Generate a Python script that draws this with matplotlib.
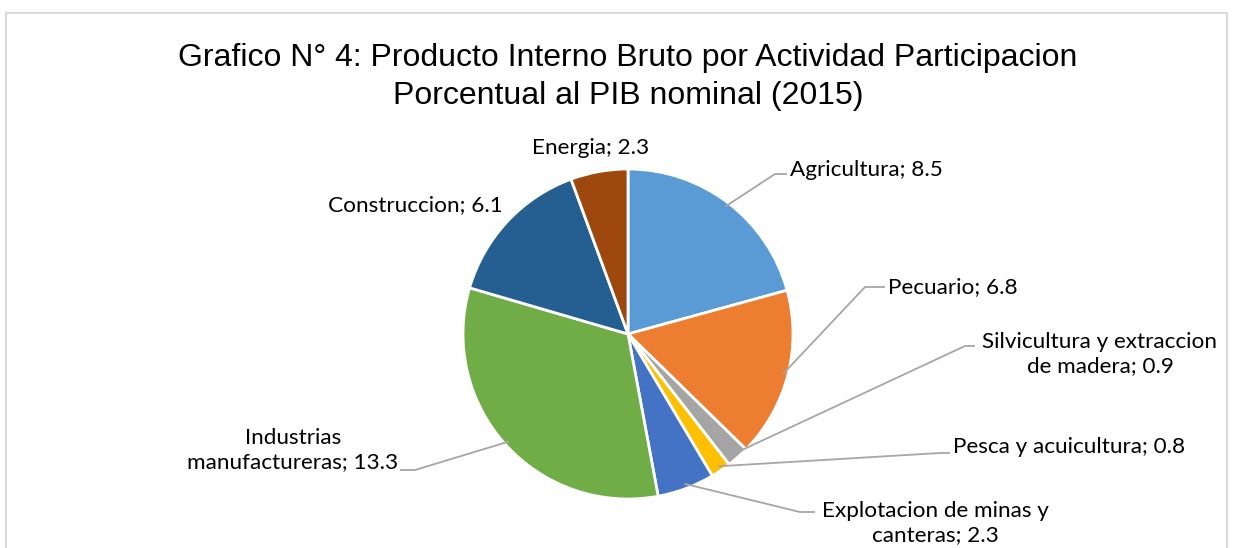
import numpy as np
import matplotlib
matplotlib.use("Agg")
import matplotlib.pyplot as plt

# data
categories = [
    "Agricultura",
    "Pecuario",
    "Silvicultura y extraccion\nde madera",
    "Pesca y acuicultura",
    "Explotacion de minas y\ncanteras",
    "Industrias\nmanufactureras",
    "Construccion",
    "Energia",
]
values = [8.5, 6.8, 0.9, 0.8, 2.3, 13.3, 6.1, 2.3]
colors = ["#5B9BD5", "#ED7D31", "#A5A5A5", "#FFC000",
          "#4472C4", "#70AD47", "#255E91", "#9E480E"]
title = "Grafico N° 4: Producto Interno Bruto por Actividad Participacion\nPorcentual al PIB nominal (2015)"

W, H = 1236, 548
CX, CY, R = 628, 334, 165

# label layout in screen pixels (y down): text x, text y, ha, elbow x, elbow end x
label_layout = [
    (790, 170, "left", 775, 787),
    (888, 287, "left", 865, 885),
    (1100, 354, "center", 965, 975),
    (953, 447, "left", 940, 950),
    (935, 523, "center", 800, 815),
    (293, 450, "center", 415, 400),
    (415, 205, "center", None, None),
    (591, 148, "center", None, None),
]
elbow_y = [174, 287, 346, 453, 512, 470, None, None]


def fy(y):
    return H - y


fig = plt.figure(figsize=(W / 100, H / 100), dpi=100)
ax = fig.add_axes([0, 0, 1, 1])

wedges, _ = ax.pie(values, colors=colors, startangle=90, counterclock=False,
                   center=(CX, fy(CY)), radius=R,
                   wedgeprops=dict(edgecolor="white", linewidth=2.0))
ax.set_xlim(0, W)
ax.set_ylim(0, H)
ax.set_aspect("equal")
ax.axis("off")

lab_font = dict(family=["Lato", "DejaVu Sans"], fontsize=16.2, color="#000000")
for w, cat, val, lay, ey in zip(wedges, categories, values, label_layout, elbow_y):
    tx, ty, ha, ex, eend = lay
    ax.text(tx, fy(ty), f"{cat}; {val}", ha=ha, va="center",
            multialignment="center", linespacing=1.2, **lab_font)
    if ex is None:
        continue
    ang = np.deg2rad((w.theta1 + w.theta2) / 2)
    axp = CX + R * 0.97 * np.cos(ang)
    ayp = fy(CY) + R * 0.97 * np.sin(ang)
    ax.plot([axp, ex, eend], [ayp, fy(ey), fy(ey)], color="#A6A6A6", lw=1.3,
            solid_capstyle="butt")

ax.text(CX, fy(77), title, ha="center", va="center", multialignment="center",
        fontsize=23, family="Liberation Sans", color="#000000", linespacing=1.35)

# chart area border
ax.plot([6, 6, 1227, 1227], [0, fy(13), fy(13), 0], color="#D9D9D9", lw=1.5)

fig.savefig("out.png", dpi=100)
